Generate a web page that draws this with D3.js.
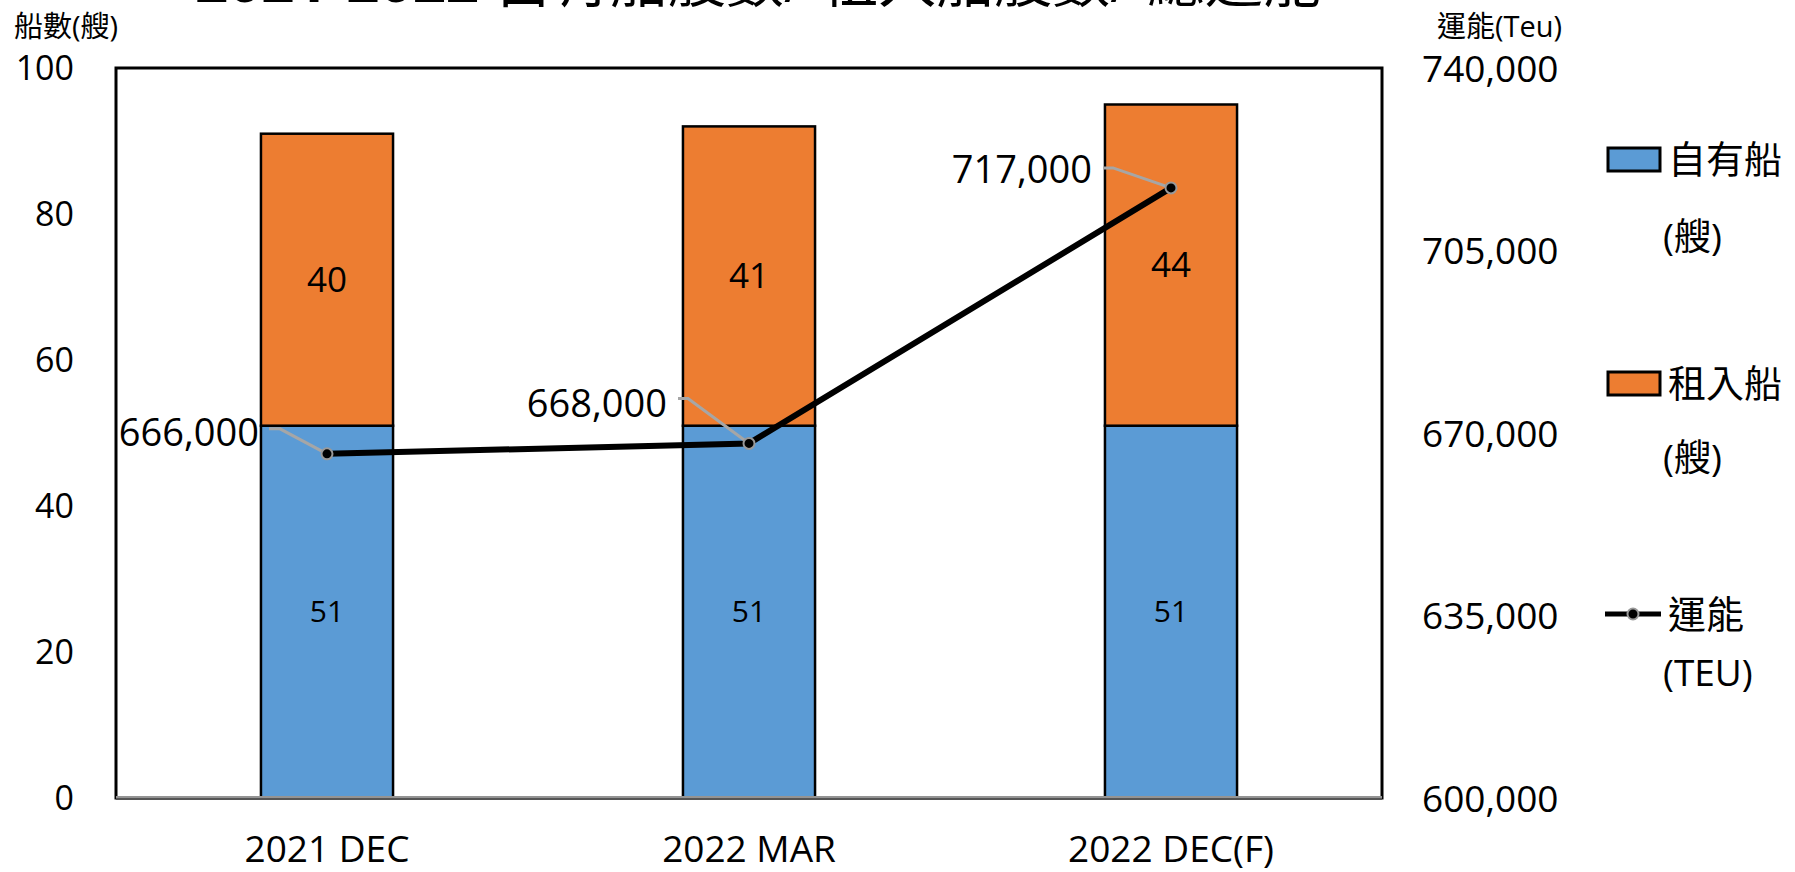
<!DOCTYPE html>
<html><head><meta charset="utf-8">
<script src="https://cdn.jsdelivr.net/npm/d3@7"></script>
<style>
html,body{margin:0;padding:0;background:#fff;overflow:hidden;}
text{font-family:"Open Sans","Noto Sans CJK TC",sans-serif;fill:#000;}
</style></head>
<body>
<svg id="chart" width="1795" height="872"></svg>
<script>
const categories = ["2021 DEC", "2022 MAR", "2022 DEC(F)"];
const ownedShips = [51, 51, 51];
const charteredShips = [40, 41, 44];
const capacityTEU = [666000, 668000, 717000];
const leftTicks = [0, 20, 40, 60, 80, 100];
const rightTicks = [600000, 635000, 670000, 705000, 740000];
const seriesNames = ["自有船", "租入船", "運能"];
const seriesUnits = ["(艘)", "(艘)", "(TEU)"];
const titleText = ["2021-2022", " 自有船艘數/ 租入船艘數/ 總運能"];

// layout (not data)
const plot = {left: 116, right: 1382, top: 68, bottom: 798};
const labelOffsets = [
  {tx: -68, ty: -21, sx: -58, sy: -25, bx: -47},
  {tx: -82, ty: -40, sx: -71, sy: -45, bx: -61},
  {tx: -79, ty: -18, sx: -68, sy: -20, bx: -58}
];
const colors = {owned: "#5B9BD5", chartered: "#ED7D31"};

const svg = d3.select("#chart");

const x = d3.scaleBand().domain(categories).range([plot.left, plot.right])
  .paddingInner(0.687).paddingOuter(0.3435);
const yL = d3.scaleLinear().domain([0, 100]).range([plot.bottom, plot.top]);
const yR = d3.scaleLinear().domain([600000, 740000]).range([plot.bottom, plot.top]);

// title (partially cut off at top, as in the reference)
const title = svg.append("text").attr("x", 195).attr("y", 2)
  .attr("font-size", 58);
title.append("tspan").attr("font-weight", "bold").text(titleText[0]);
title.append("tspan").text(titleText[1]);

// axis titles
svg.append("text").attr("x", 14).attr("y", 37).attr("font-size", 29).text("船數(艘)");
svg.append("text").attr("x", 1437).attr("y", 37).attr("font-size", 29).text("運能(Teu)");

// left axis
const axL = svg.append("g").attr("transform", `translate(${plot.left},0)`)
  .call(d3.axisLeft(yL).tickValues(leftTicks).tickSize(0).tickPadding(42));
axL.select(".domain").remove();
axL.selectAll("text").attr("font-size", 34).attr("font-family", null).attr("dy", "0.35em");

// right axis
const axR = svg.append("g").attr("transform", `translate(${plot.right},0)`)
  .call(d3.axisRight(yR).tickValues(rightTicks).tickSize(0).tickPadding(40)
    .tickFormat(d3.format(",")));
axR.select(".domain").remove();
axR.selectAll("text").attr("font-size", 37).attr("font-family", null).attr("dy", "0.36em");

// x axis labels
const axB = svg.append("g").attr("transform", `translate(0,${plot.bottom})`)
  .call(d3.axisBottom(x).tickSize(0).tickPadding(38));
axB.select(".domain").remove();
axB.selectAll("text").attr("font-size", 37).attr("font-family", null);

// frame
svg.append("rect").attr("x", plot.left).attr("y", plot.top)
  .attr("width", plot.right - plot.left).attr("height", plot.bottom - plot.top)
  .attr("fill", "none").attr("stroke", "#000").attr("stroke-width", 3);

// stacked bars
const bw = x.bandwidth();
const barG = svg.append("g");
categories.forEach((c, i) => {
  const x0 = x(c);
  barG.append("rect").attr("x", x0).attr("y", yL(ownedShips[i]))
    .attr("width", bw).attr("height", yL(0) - yL(ownedShips[i]))
    .attr("fill", colors.owned).attr("stroke", "#000").attr("stroke-width", 2.5);
  const top = ownedShips[i] + charteredShips[i];
  barG.append("rect").attr("x", x0).attr("y", yL(top))
    .attr("width", bw).attr("height", yL(ownedShips[i]) - yL(top))
    .attr("fill", colors.chartered).attr("stroke", "#000").attr("stroke-width", 2.5);
  barG.append("text").attr("x", x0 + bw / 2).attr("y", yL(ownedShips[i] / 2))
    .attr("text-anchor", "middle").attr("dy", "0.35em").attr("font-size", 30)
    .text(ownedShips[i]);
  barG.append("text").attr("x", x0 + bw / 2).attr("y", yL(ownedShips[i] + charteredShips[i] / 2))
    .attr("text-anchor", "middle").attr("dy", "0.35em").attr("font-size", 35)
    .text(charteredShips[i]);
});

// bottom axis line (gray)
svg.append("line").attr("x1", plot.left).attr("x2", plot.right)
  .attr("y1", plot.bottom).attr("y2", plot.bottom)
  .attr("stroke", "#555").attr("stroke-width", 4);
svg.append("line").attr("x1", plot.left).attr("x2", plot.right)
  .attr("y1", plot.bottom - 1).attr("y2", plot.bottom - 1)
  .attr("stroke", "#aaa").attr("stroke-width", 1.5);

// line series
const pts = categories.map((c, i) => [x(c) + bw / 2, yR(capacityTEU[i])]);
svg.append("path").attr("d", d3.line()(pts)).attr("fill", "none")
  .attr("stroke", "#000").attr("stroke-width", 6);

// data labels with leader lines
pts.forEach((p, i) => {
  const o = labelOffsets[i];
  svg.append("polyline")
    .attr("points", [[p[0] + o.sx, p[1] + o.sy], [p[0] + o.bx, p[1] + o.sy], p].map(q => q.join(",")).join(" "))
    .attr("fill", "none").attr("stroke", "#a6a6a6").attr("stroke-width", 3);
});
pts.forEach((p, i) => {
  svg.append("circle").attr("cx", p[0]).attr("cy", p[1]).attr("r", 5.5)
    .attr("fill", "#000").attr("stroke", "#999").attr("stroke-width", 2);
  const o = labelOffsets[i];
  svg.append("text").attr("x", p[0] + o.tx).attr("y", p[1] + o.ty)
    .attr("text-anchor", "end").attr("dy", "0.35em").attr("font-size", 38)
    .text(d3.format(",")(capacityTEU[i]));
});

// legend
const lg = svg.append("g");
const legendY = [159, 383, 614];
const legendSubY = [237, 458, 673];
[colors.owned, colors.chartered].forEach((col, i) => {
  lg.append("rect").attr("x", 1608).attr("y", legendY[i] - 11).attr("width", 52).attr("height", 23)
    .attr("fill", col).attr("stroke", "#000").attr("stroke-width", 3);
});
lg.append("line").attr("x1", 1605).attr("x2", 1661).attr("y1", legendY[2]).attr("y2", legendY[2])
  .attr("stroke", "#000").attr("stroke-width", 5);
lg.append("circle").attr("cx", 1633).attr("cy", legendY[2]).attr("r", 5.5)
  .attr("fill", "#000").attr("stroke", "#999").attr("stroke-width", 2);
seriesNames.forEach((n, i) => {
  lg.append("text").attr("x", 1668).attr("y", legendY[i] + 1).attr("dy", "0.35em")
    .attr("font-size", 38).text(n);
  lg.append("text").attr("x", 1663).attr("y", legendSubY[i]).attr("dy", "0.35em")
    .attr("font-size", 37).text(seriesUnits[i]);
});
</script>
</body></html>
